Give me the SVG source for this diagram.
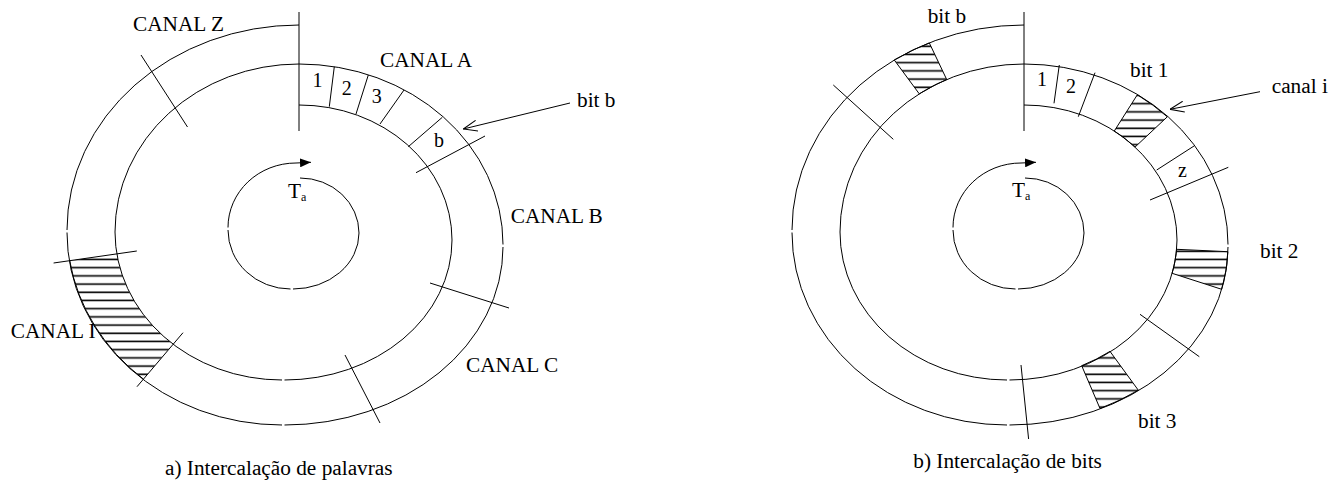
<svg xmlns="http://www.w3.org/2000/svg" xmlns:xlink="http://www.w3.org/1999/xlink" width="1340" height="490" viewBox="0 0 1340 490">
  <style>
    .ln { fill: none; stroke: #000; stroke-width: 1; }
    .txt { font-family: "Liberation Serif", "Times New Roman", serif; font-size: 21.3px; fill: #000; }
    .num { font-family: "Liberation Serif", "Times New Roman", serif; font-size: 20px; fill: #000; text-anchor: middle; }
    .sub { font-size: 12px; }
    .hatch { fill: url(#hatch); stroke: #000; stroke-width: 1; }
    .hatch-open { fill: url(#hatch); stroke: none; }
  </style>
  <defs>
    <pattern id="hatch" patternUnits="userSpaceOnUse" width="40" height="8.2" y="1.3">
      <line x1="0" y1="4" x2="40" y2="4" stroke="#000" stroke-width="1.6"/>
    </pattern>
    <marker id="open-arrow" viewBox="0 0 14 12" refX="14" refY="6" markerWidth="14" markerHeight="12" markerUnits="userSpaceOnUse" orient="auto">
      <path d="M0,0.5 L14,6 L0,11.5" fill="none" stroke="#000" stroke-width="1"/>
    </marker>
    <marker id="solid-arrow" viewBox="0 0 11 9" refX="11" refY="4.5" markerWidth="11" markerHeight="9" markerUnits="userSpaceOnUse" orient="auto">
      <path d="M0,0 L11,4.5 L0,9 Z" fill="#000"/>
    </marker>
    <!-- spiral track: outer turn, inner turn, marker line at the start of a frame -->
    <g id="track">
      <path class="ln" d="M299,25 A232 205 0 0 0 67,230
                          M67,232.5 A215 192.5 0 0 0 282,425
                          M284.5,425 A218.5 178 0 0 0 503,247
                          M503,244.5 A204 180.5 0 0 0 299,64
                          A184 168 0 0 0 115,232
                          A167 148 0 0 0 282,380
                          M284.5,380 A167.5 140 0 0 0 452,240
                          A153 135 0 0 0 299,105"/>
      <line class="ln" x1="299" y1="12" x2="299" y2="131"/>
      <!-- rotation indicator -->
      <path class="ln" d="M300,178 A59 55 0 0 1 359,233
                          A66 56 0 0 1 293,289
                          M290.5,289 A62.5 59 0 0 1 228,230
                          M228,227.5 A68 64.5 0 0 1 296,163"/>
      <path class="ln" d="M296,163 L311,162.3" marker-end="url(#solid-arrow)"/>
    </g>
  </defs>

  <!-- a) word interleaving -->
  <g id="disk-words">
    <use xlink:href="#track" href="#track"/>
    <path id="canal-i-area" class="hatch-open" d="M69.7,260.7 L116.8,253.9 A167 148 0 0 0 173,344.3 L143.4,379.1 A215 195 0 0 1 69.7,260.7 Z"/>
    <path class="ln" d="M69.7,260.7 A215 195 0 0 0 143.4,379.1" stroke-width="1.3"/>
  </g>

  <!-- b) bit interleaving -->
  <g id="disk-bits">
    <use xlink:href="#track" href="#track" x="725"/>
    <path id="bit-b-area" class="hatch" d="M894.3,60 A232 205 0 0 1 929.3,42.9 L946.7,79.5 A184 168 0 0 0 919.3,93.9 Z"/>
    <path id="bit-1-area" class="hatch" d="M1114.3,131 L1137.3,94.8 A204 183 0 0 1 1167.3,116.8 L1135,147.1 A153 135 0 0 0 1114.3,131 Z"/>
    <path id="bit-2-area" class="hatch" d="M1176.6,249.3 L1227.9,251.7 A221 178 0 0 1 1221.7,289.3 L1172.1,273.3 A170 140 0 0 0 1176.6,249.3 Z"/>
    <path id="bit-3-area" class="hatch" d="M1081.7,365.7 A170 140 0 0 0 1110,351.4 L1138.3,390.2 A221 178 0 0 1 1100,408.5 Z"/>
  </g>

  <!-- slot dividers and pointers -->
  <g id="connectors">
    <!-- a) -->
    <line class="ln" x1="141" y1="55" x2="187.5" y2="127"/>
    <line class="ln" x1="53.6" y1="263" x2="136.8" y2="251"/>
    <line class="ln" x1="183" y1="332.7" x2="137" y2="386.7"/>
    <line class="ln" x1="430" y1="283" x2="509" y2="308"/>
    <line class="ln" x1="345" y1="355" x2="380" y2="423"/>
    <line class="ln" x1="334.3" y1="66.7" x2="329.3" y2="106.7"/>
    <line class="ln" x1="368.3" y1="75" x2="356" y2="114"/>
    <line class="ln" x1="404" y1="90" x2="380" y2="124"/>
    <line class="ln" x1="442.3" y1="117.3" x2="408.3" y2="146.7"/>
    <line class="ln" x1="485" y1="136" x2="416" y2="172.7"/>
    <line class="ln" x1="570" y1="103" x2="463.3" y2="129" marker-end="url(#open-arrow)"/>
    <!-- b) -->
    <line class="ln" x1="833.3" y1="85" x2="893.3" y2="139.3"/>
    <line class="ln" x1="1059.3" y1="65" x2="1054" y2="103.3"/>
    <line class="ln" x1="1095" y1="72.7" x2="1078.3" y2="116.7"/>
    <line class="ln" x1="1194" y1="146" x2="1156.7" y2="170"/>
    <line class="ln" x1="1228.3" y1="167.3" x2="1150" y2="200"/>
    <line class="ln" x1="1140" y1="314.3" x2="1199.3" y2="356.7"/>
    <line class="ln" x1="1021" y1="365" x2="1028.6" y2="439"/>
    <line class="ln" x1="1260" y1="91.7" x2="1170" y2="109.3" marker-end="url(#open-arrow)"/>
  </g>

  <!-- labels a) -->
  <g id="labels-words">
    <text class="txt" x="133" y="31">CANAL Z</text>
    <text class="txt" x="380" y="66.7">CANAL A</text>
    <text class="txt" x="577" y="107">bit b</text>
    <text class="txt" x="510.7" y="223">CANAL B</text>
    <text class="txt" x="466" y="372">CANAL C</text>
    <text class="txt" x="10.7" y="338.3">CANAL I</text>
    <text class="num" x="317.5" y="86.7">1</text>
    <text class="num" x="346.7" y="95">2</text>
    <text class="num" x="376.7" y="103">3</text>
    <text class="num" x="439" y="146.7">b</text>
    <text class="txt" x="288" y="198">T<tspan class="sub" dy="3">a</tspan></text>
    <text class="txt" x="165" y="475">a) Intercalação de palavras</text>
  </g>

  <!-- labels b) -->
  <g id="labels-bits">
    <text class="txt" x="927.7" y="23.3">bit b</text>
    <text class="num" x="1042" y="86">1</text>
    <text class="num" x="1071" y="93.3">2</text>
    <text class="txt" x="1130" y="76.7">bit 1</text>
    <text class="txt" x="1271.7" y="93.3">canal i</text>
    <text class="num" x="1182.5" y="176.7">z</text>
    <text class="txt" x="1260" y="258">bit 2</text>
    <text class="txt" x="1138" y="428">bit 3</text>
    <text class="txt" x="1012" y="197">T<tspan class="sub" dy="3">a</tspan></text>
    <text class="txt" x="913.3" y="468">b) Intercalação de bits</text>
  </g>
</svg>
